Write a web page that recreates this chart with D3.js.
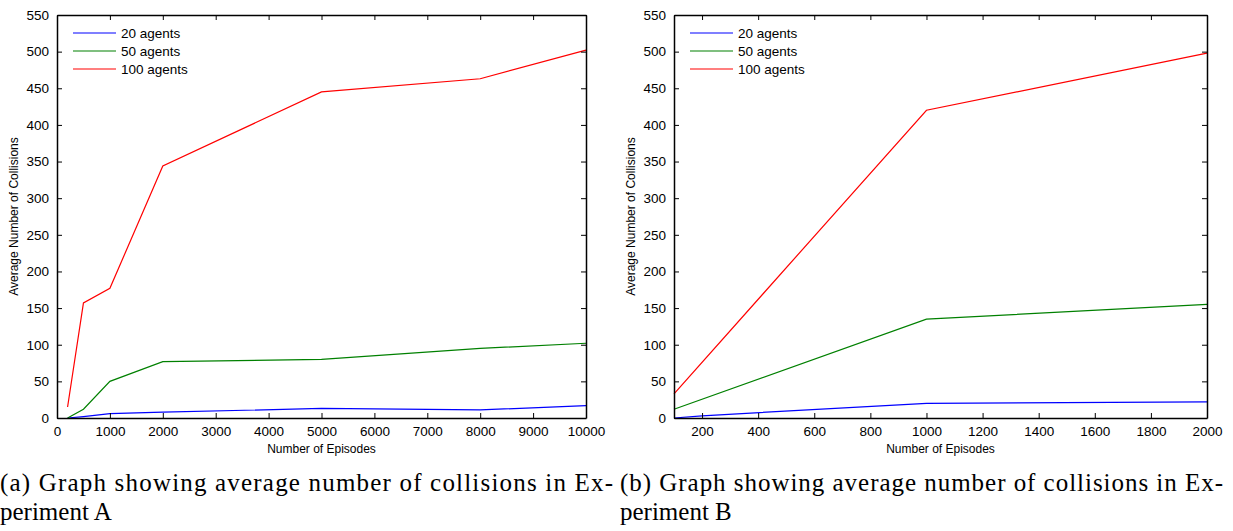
<!DOCTYPE html>
<html>
<head>
<meta charset="utf-8">
<script src="https://cdn.jsdelivr.net/npm/d3@7"></script>
<style>
  body { margin: 0; background: #fff; }
  .axis text { font-family: 'Liberation Sans', Arial, sans-serif; font-size: 13.5px; fill: #000; }
  .axis path, .axis line { stroke: #000; }
  .caption { font-family: 'Liberation Serif', 'Times New Roman', serif; font-size: 25px; }
</style>
</head>
<body>
<div id="chart"></div>
<script>
// Experiment A
var episodesA = [200, 500, 1000, 2000, 5000, 8000, 10000]
var a20 = [0, 2, 6, 8, 13, 11, 17]
var a50 = [0, 12, 50, 77, 80, 95, 102]
var a100 = [15, 157, 177, 344, 445, 463, 502]

// Experiment B
var episodesB = [100, 1000, 2000]
var episodesB20 = [100, 200, 1000, 2000]
var b20 = [0, 3, 20, 22]
var b50 = [12, 135, 155]
var b100 = [33, 420, 498]

var seriesNames = ['20 agents', '50 agents', '100 agents']
var colors = ['#0000ff', '#008000', '#ff0000']
var yTicks = d3.range(0, 551, 50)

var svg = d3.select('#chart')
  .append('svg')
  .attr('width', 1233)
  .attr('height', 531)

function panel(x0, x1, xDomain, xTicks, series, caption1, caption2, capX, capW) {
  var top = 15
  var bottom = 418
  var xScale = d3.scaleLinear().domain(xDomain).range([x0, x1])
  var yScale = d3.scaleLinear().domain([0, 550]).range([bottom, top])
  var fmt = d3.format('d')

  var g = svg.append('g')

  var line = d3.line()
    .x(d => xScale(d[0]))
    .y(d => yScale(d[1]))

  series.forEach((s, i) => {
    g.append('path')
      .datum(d3.zip(s.x, s.y))
      .attr('fill', 'none')
      .attr('stroke', colors[i])
      .attr('stroke-width', 1.2)
      .attr('d', line)
  })

  // box with inward ticks
  g.append('g').attr('class', 'axis')
    .attr('transform', 'translate(0,' + bottom + ')')
    .call(d3.axisBottom(xScale).tickValues(xTicks).tickFormat(fmt).tickSize(-5).tickPadding(8).tickSizeOuter(0))
  g.append('g').attr('class', 'axis')
    .attr('transform', 'translate(0,' + top + ')')
    .call(d3.axisTop(xScale).tickValues(xTicks).tickSize(-5).tickFormat('').tickSizeOuter(0))
  g.append('g').attr('class', 'axis')
    .attr('transform', 'translate(' + x0 + ',0)')
    .call(d3.axisLeft(yScale).tickValues(yTicks).tickFormat(fmt).tickSize(-5).tickPadding(8).tickSizeOuter(0))
  g.append('g').attr('class', 'axis')
    .attr('transform', 'translate(' + x1 + ',0)')
    .call(d3.axisRight(yScale).tickValues(yTicks).tickSize(-5).tickFormat('').tickSizeOuter(0))
  g.selectAll('.axis path.domain').attr('stroke-width', 1.5)

  g.append('text')
    .attr('x', (x0 + x1) / 2)
    .attr('y', 453)
    .attr('text-anchor', 'middle')
    .style('font-family', "'Liberation Sans', Arial, sans-serif")
    .style('font-size', '12px')
    .text('Number of Episodes')

  g.append('text')
    .attr('transform', 'translate(' + (x0 - 39) + ',' + (top + bottom) / 2 + ') rotate(-90)')
    .attr('text-anchor', 'middle')
    .style('font-family', "'Liberation Sans', Arial, sans-serif")
    .style('font-size', '12px')
    .text('Average Number of Collisions')

  // legend
  seriesNames.forEach((name, i) => {
    var ly = 33 + i * 18
    g.append('line')
      .attr('x1', x0 + 16).attr('x2', x0 + 59)
      .attr('y1', ly).attr('y2', ly)
      .attr('stroke', colors[i])
      .attr('stroke-width', 1.2)
    g.append('text')
      .attr('x', x0 + 64).attr('y', ly + 4.5)
      .style('font-family', "'Liberation Sans', Arial, sans-serif")
      .style('font-size', '13.5px')
      .text(name)
  })

  g.append('text').attr('class', 'caption')
    .attr('x', capX).attr('y', 491)
    .attr('textLength', capW)
    .attr('lengthAdjust', 'spacing')
    .text(caption1)
  g.append('text').attr('class', 'caption')
    .attr('x', capX).attr('y', 520)
    .text(caption2)
}

panel(57, 586, [0, 10000], d3.range(0, 10001, 1000),
  [
    { x: episodesA, y: a20 },
    { x: episodesA, y: a50 },
    { x: episodesA, y: a100 }
  ],
  '(a) Graph showing average number of collisions in Ex-', 'periment A', 0, 613)

panel(674, 1207, [100, 2000], d3.range(200, 2001, 200),
  [
    { x: episodesB20, y: b20 },
    { x: episodesB, y: b50 },
    { x: episodesB, y: b100 }
  ],
  '(b) Graph showing average number of collisions in Ex-', 'periment B', 620, 603)
</script>
</body>
</html>
